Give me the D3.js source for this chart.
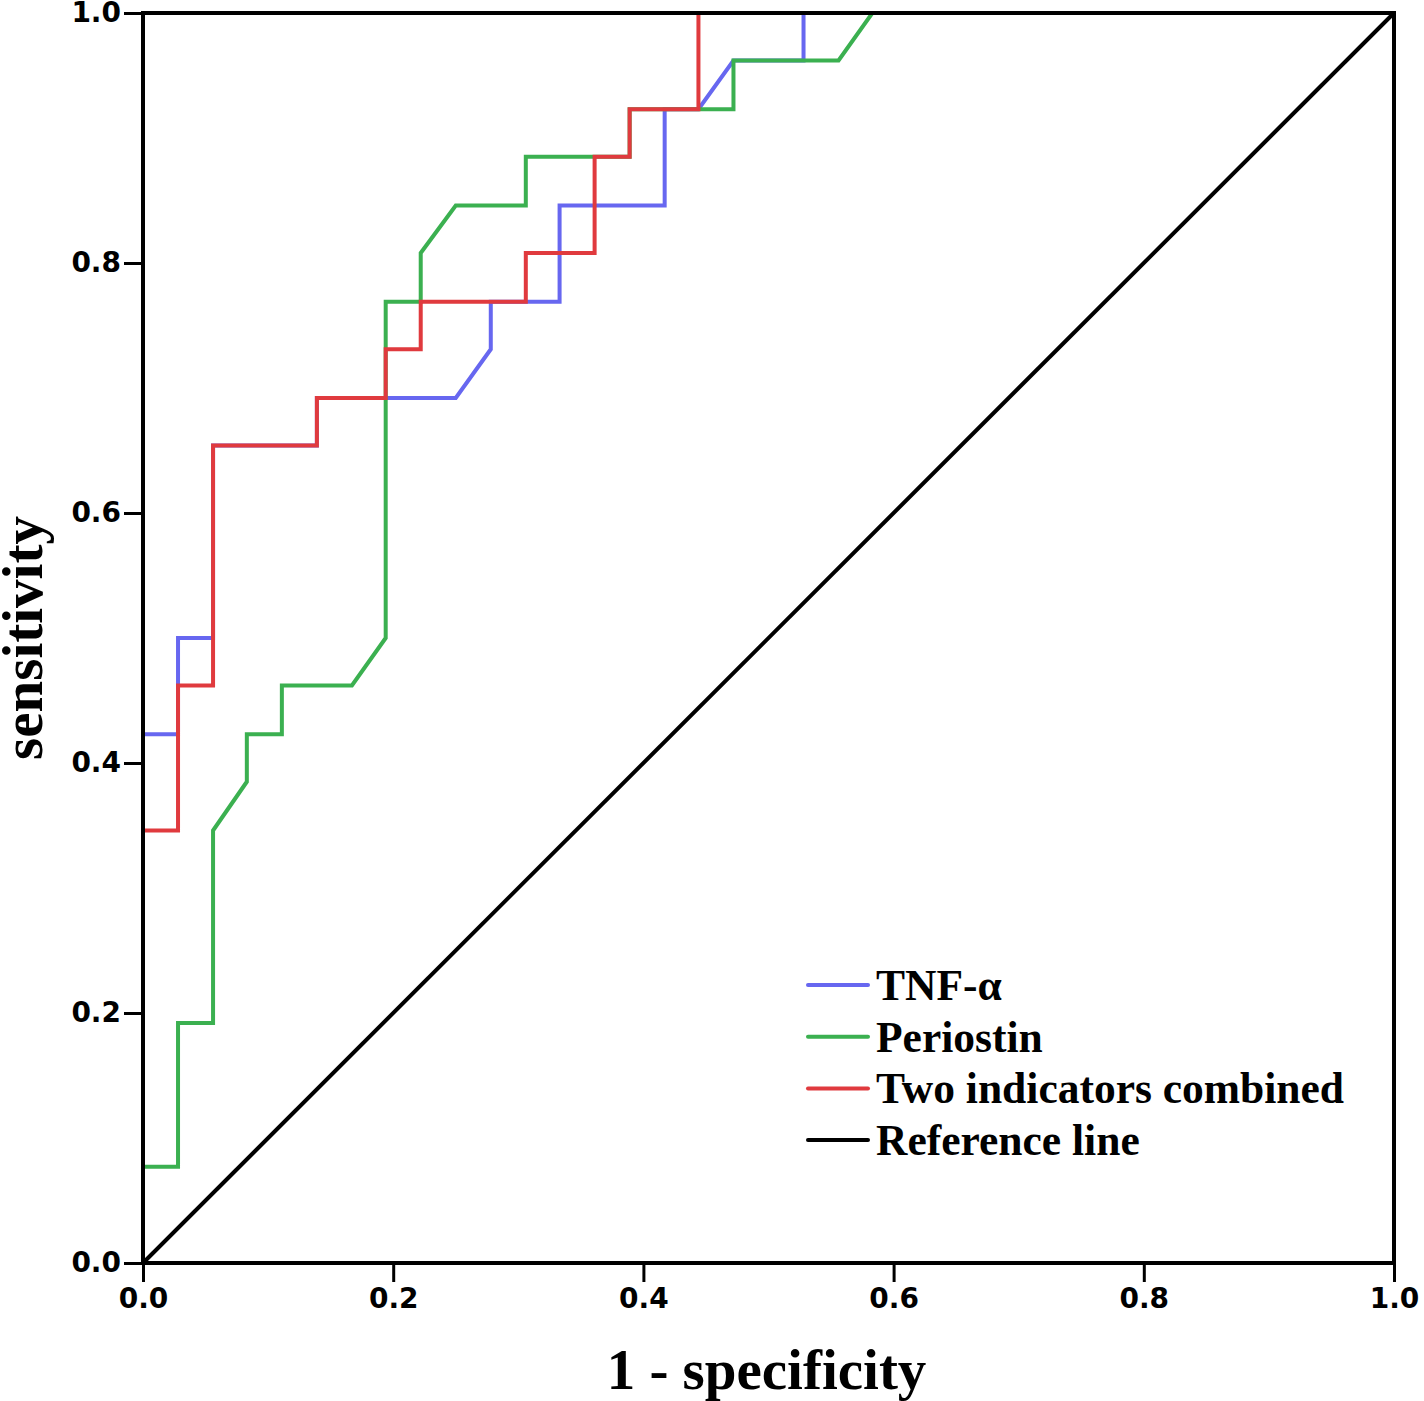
<!DOCTYPE html>
<meta charset="utf-8">
<script src="https://d3js.org/d3.v7.min.js"></script>
<style>
  body { margin: 0; background: #fff; }
  .tick text { font-family: "DejaVu Sans", Verdana, sans-serif; font-weight: bold; font-size: 28px; fill: #000; }
  .axis-title { font-family: "Liberation Serif", "Times New Roman", serif; font-weight: bold; font-size: 57px; }
  .legend text { font-family: "Liberation Serif", "Times New Roman", serif; font-weight: bold; font-size: 43.5px; }
</style>
<body>
<div id="chart"></div>
<script>
// ROC points (1 - specificity, sensitivity)
var tnfX  = [0, 0, 0.028, 0.028, 0.056, 0.056, 0.139, 0.139, 0.25, 0.278, 0.278, 0.333, 0.333, 0.417, 0.417, 0.444, 0.472, 0.528, 0.528, 1];
var tnfY  = [0, 0.423, 0.423, 0.5, 0.5, 0.654, 0.654, 0.692, 0.692, 0.731, 0.769, 0.769, 0.846, 0.846, 0.923, 0.923, 0.962, 0.962, 1, 1];

var perX  = [0, 0, 0.028, 0.028, 0.056, 0.056, 0.083, 0.083, 0.111, 0.111, 0.167, 0.194, 0.194, 0.222, 0.222, 0.25, 0.306, 0.306, 0.389, 0.389, 0.472, 0.472, 0.556, 0.583, 1];
var perY  = [0, 0.077, 0.077, 0.192, 0.192, 0.346, 0.385, 0.423, 0.423, 0.462, 0.462, 0.5, 0.769, 0.769, 0.808, 0.846, 0.846, 0.885, 0.885, 0.923, 0.923, 0.962, 0.962, 1, 1];

var combX = [0, 0, 0.028, 0.028, 0.056, 0.056, 0.139, 0.139, 0.194, 0.194, 0.222, 0.222, 0.306, 0.306, 0.361, 0.361, 0.389, 0.389, 0.444, 0.444, 1];
var combY = [0, 0.346, 0.346, 0.462, 0.462, 0.654, 0.654, 0.692, 0.692, 0.731, 0.731, 0.769, 0.769, 0.808, 0.808, 0.885, 0.885, 0.923, 0.923, 1, 1];

var refX = [0, 1];
var refY = [0, 1];

var seriesNames = ["TNF-\u03b1", "Periostin", "Two indicators combined", "Reference line"];
var seriesColors = ["#6767f0", "#3bb050", "#e03a3e", "#000000"];
var ticks = [0, 0.2, 0.4, 0.6, 0.8, 1.0];

var W = 1424, H = 1401;
var mLeft = 143, mRight = 1394, mTop = 13, mBottom = 1263;

var svg = d3.select("#chart").append("svg")
  .attr("width", W)
  .attr("height", H);

var x = d3.scaleLinear().domain([0, 1]).range([mLeft, mRight]);
var y = d3.scaleLinear().domain([0, 1]).range([mBottom, mTop]);

function zip(a, b) { return a.map(function(v, i) { return [v, b[i]]; }); }

var line = d3.line().x(d => x(d[0])).y(d => y(d[1]));

var series = [
  { pts: zip(tnfX, tnfY), color: seriesColors[0] },
  { pts: zip(perX, perY), color: seriesColors[1] },
  { pts: zip(combX, combY), color: seriesColors[2] }
];

// reference diagonal
svg.append("path")
  .attr("d", line(zip(refX, refY)))
  .attr("fill", "none")
  .attr("stroke", seriesColors[3])
  .attr("stroke-width", 4);

svg.selectAll(".roc")
  .data(series)
  .enter().append("path")
  .attr("class", "roc")
  .attr("d", d => line(d.pts))
  .attr("fill", "none")
  .attr("stroke", d => d.color)
  .attr("stroke-width", 4)
  .attr("stroke-linejoin", "miter");

// frame
svg.append("rect")
  .attr("x", mLeft).attr("y", mTop)
  .attr("width", mRight - mLeft).attr("height", mBottom - mTop)
  .attr("fill", "none")
  .attr("stroke", "#000")
  .attr("stroke-width", 4);

// axes
var xAxis = svg.append("g")
  .attr("transform", "translate(0," + mBottom + ")")
  .call(d3.axisBottom(x).tickValues(ticks).tickFormat(d3.format(".1f")).tickSize(19).tickPadding(6));
var yAxis = svg.append("g")
  .attr("transform", "translate(" + mLeft + ",0)")
  .call(d3.axisLeft(y).tickValues(ticks).tickFormat(d3.format(".1f")).tickSize(19).tickPadding(3));
[xAxis, yAxis].forEach(function(g) {
  g.select(".domain").remove();
  g.selectAll(".tick line").attr("stroke", "#000").attr("stroke-width", 3);
});

// axis titles
svg.append("text")
  .attr("class", "axis-title")
  .attr("x", (mLeft + mRight) / 2 - 2)
  .attr("y", 1389)
  .attr("text-anchor", "middle")
  .text("1 - specificity");

svg.append("text")
  .attr("class", "axis-title")
  .attr("transform", "translate(42," + 638 + ") rotate(-90)")
  .attr("text-anchor", "middle")
  .text("sensitivity");

// legend
var legend = svg.append("g").attr("class", "legend")
  .attr("transform", "translate(808,985)");
var item = legend.selectAll("g")
  .data(seriesNames)
  .enter().append("g")
  .attr("transform", (d, i) => "translate(0," + i * 51.7 + ")");
item.append("line")
  .attr("x1", 0).attr("x2", 60)
  .attr("stroke", (d, i) => seriesColors[i])
  .attr("stroke-width", 4)
  .attr("stroke-linecap", "round");
item.append("text")
  .attr("x", 68)
  .attr("y", 15)
  .text(d => d);
</script>
</body>
